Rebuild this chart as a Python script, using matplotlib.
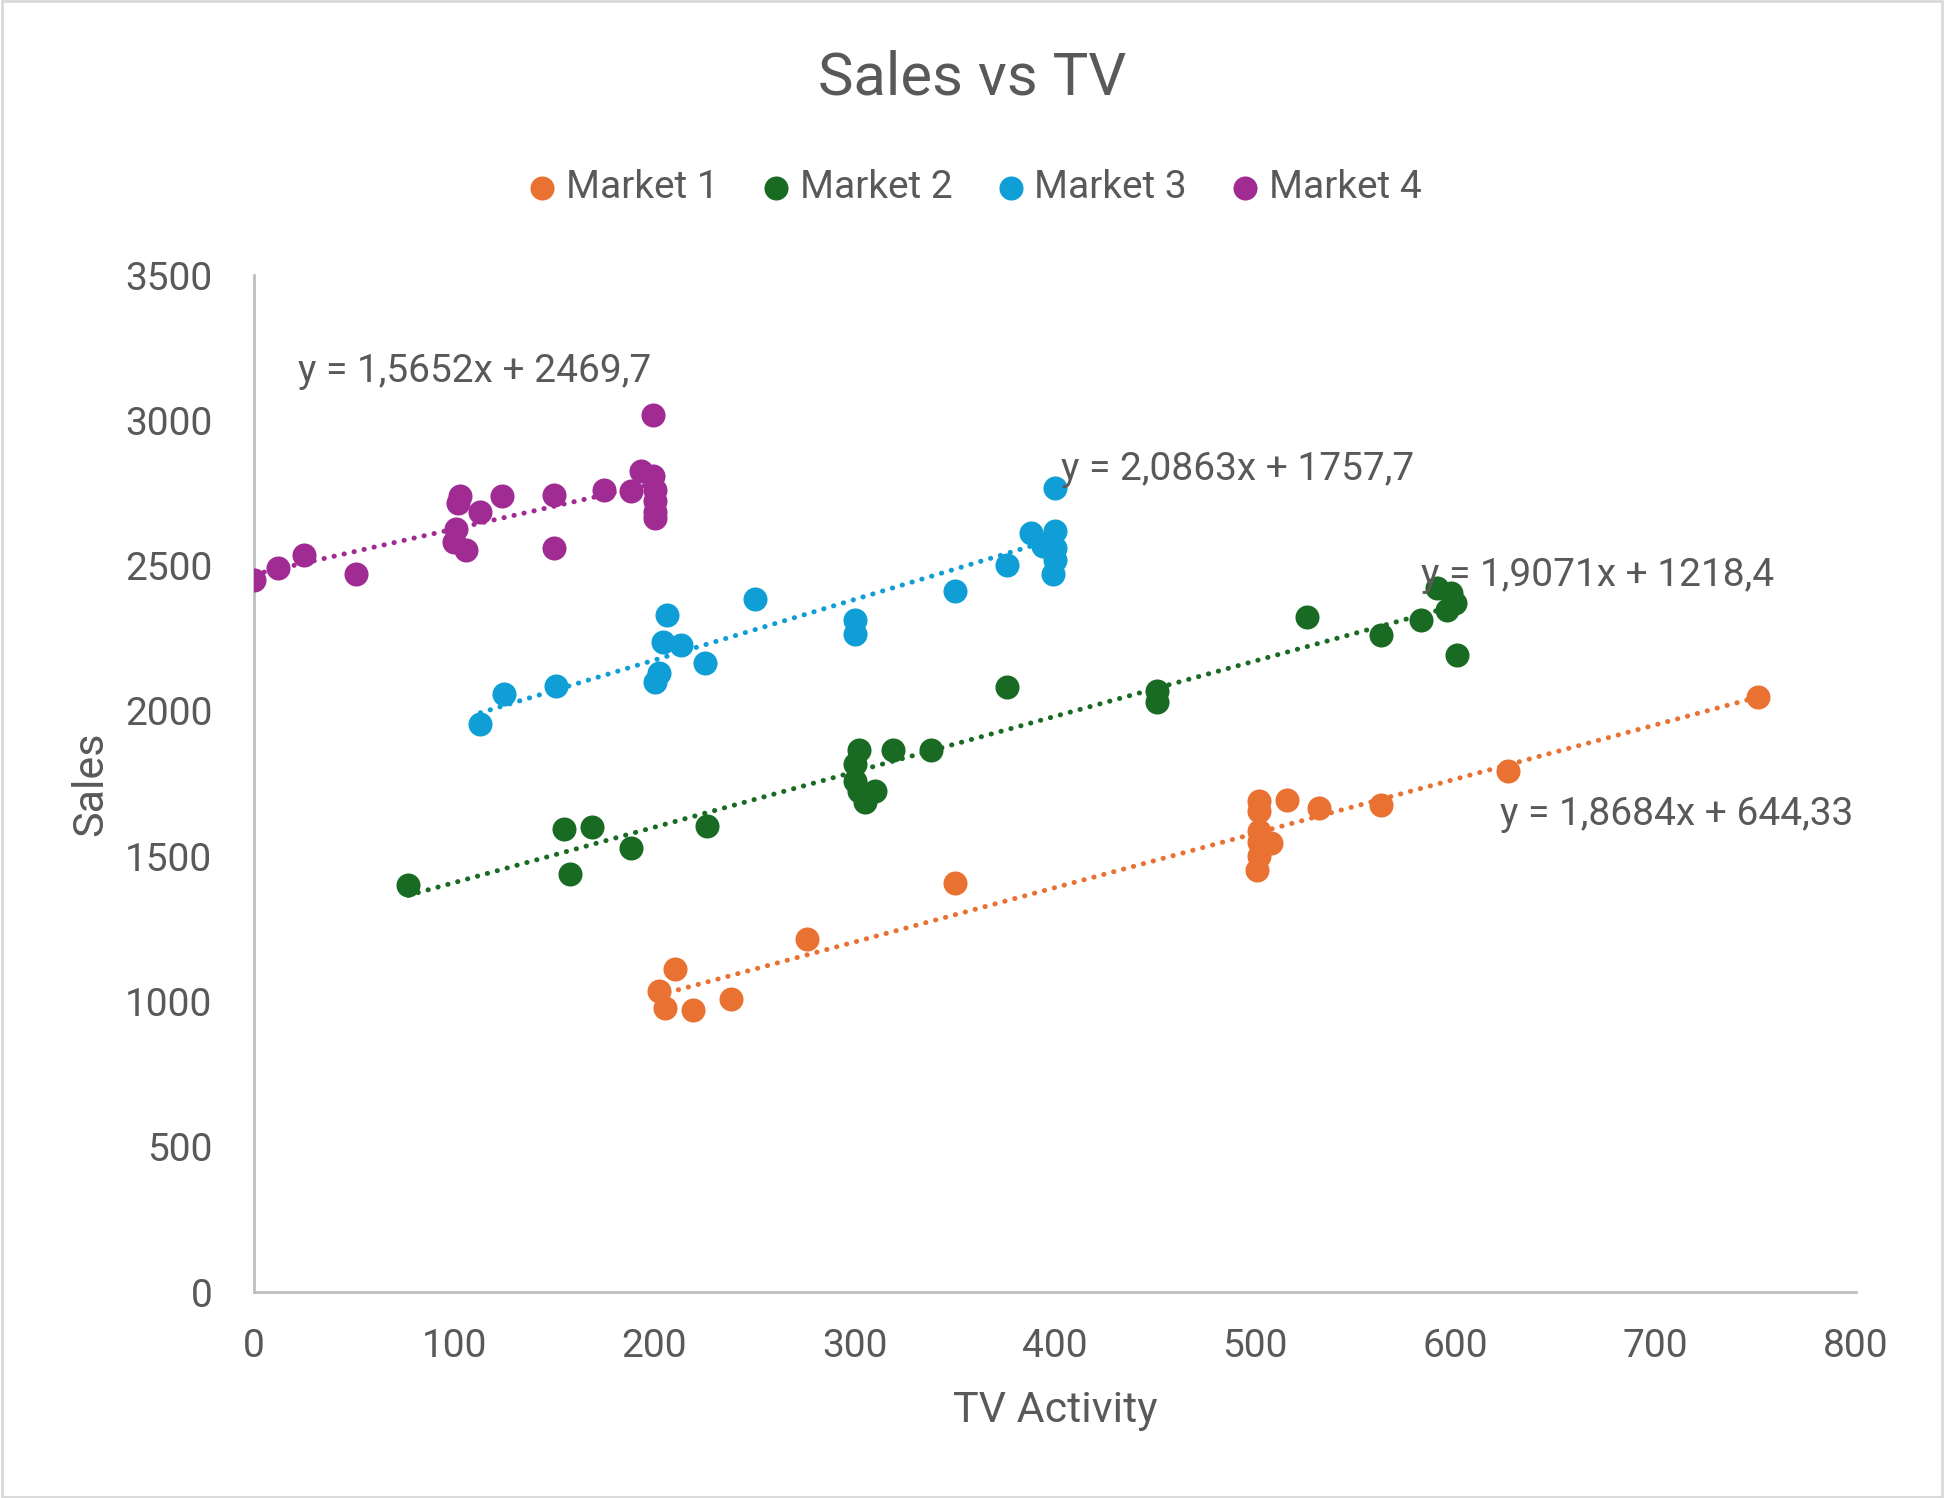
import numpy as np
import matplotlib.pyplot as plt
from matplotlib.patches import Rectangle

# Market data
m1_x = [202, 205, 210, 219, 238, 276, 350, 502, 502, 502, 502, 502, 501, 508, 516, 532, 563, 626, 751]
m1_y = [1037, 977, 1110, 969, 1007, 1216, 1408, 1690, 1656, 1588, 1549, 1502, 1451, 1545, 1694, 1665, 1677, 1793, 2049]

m2_x = [77, 155, 158, 169, 188, 226, 300, 302, 300, 302, 305, 310, 319, 338, 376, 451, 451, 526, 563, 583, 591, 596, 598, 600, 601]
m2_y = [1400, 1592, 1438, 1600, 1528, 1605, 1818, 1865, 1758, 1724, 1686, 1724, 1865, 1865, 2083, 2070, 2032, 2322, 2262, 2313, 2424, 2347, 2407, 2373, 2194]

m3_x = [113, 125, 151, 200, 202, 204, 206, 213, 225, 250, 300, 300, 350, 376, 388, 394, 398, 400, 400, 400, 400, 399]
m3_y = [1955, 2057, 2087, 2100, 2130, 2236, 2330, 2228, 2164, 2386, 2313, 2266, 2411, 2501, 2612, 2569, 2586, 2620, 2766, 2561, 2518, 2471]

m4_x = [0, 12, 25, 51, 100, 101, 102, 103, 106, 113, 124, 150, 150, 175, 188, 193, 199, 200, 200, 200, 200, 199]
m4_y = [2450, 2493, 2535, 2471, 2582, 2625, 2714, 2740, 2552, 2685, 2740, 2744, 2561, 2761, 2757, 2825, 2808, 2761, 2723, 2685, 2663, 3017]

names = ["Market 1", "Market 2", "Market 3", "Market 4"]
colors = ["#E97132", "#196B24", "#0F9ED5", "#A02B93"]
slopes = [1.8684, 1.9071, 2.0863, 1.5652]
intercepts = [644.33, 1218.4, 1757.7, 2469.7]
eq_labels = ["y = 1,8684x + 644,33", "y = 1,9071x + 1218,4",
             "y = 2,0863x + 1757,7", "y = 1,5652x + 2469,7"]
eq_pos = [(622, 1643), (583, 2467), (403, 2830), (22, 3167)]

plt.rcParams['font.family'] = ['Roboto', 'DejaVu Sans']
txt = "#595959"

fig = plt.figure(figsize=(19.44, 14.98), dpi=100)
ax = fig.add_axes([0.1307, 0.1375, 0.8240, 0.6789])

xs = [m1_x, m2_x, m3_x, m4_x]
ys = [m1_y, m2_y, m3_y, m4_y]
for x, y, c, n, k, b in zip(xs, ys, colors, names, slopes, intercepts):
    x = np.array(x)
    ax.scatter(x, y, s=300, color=c, label=n, zorder=3, linewidths=0)
    lx = np.array([x.min(), x.max()])
    ax.plot(lx, k * lx + b, color=c, lw=3.6, linestyle=(0, (0.05, 2.0)),
            dash_capstyle='round', zorder=2)

for s, (px, py) in zip(eq_labels, eq_pos):
    ax.text(px, py, s, fontsize=28, color=txt, va='center', ha='left', zorder=4)

ax.set_xlim(0, 800)
ax.set_ylim(0, 3500)
ax.set_xticks(range(0, 801, 100))
ax.set_yticks(range(0, 3501, 500))
ax.tick_params(length=0, labelsize=28, labelcolor=txt)
ax.tick_params(axis='y', pad=30)
ax.tick_params(axis='x', pad=26)
for sp in ['top', 'right']:
    ax.spines[sp].set_visible(False)
for sp in ['left', 'bottom']:
    ax.spines[sp].set_color('#BFBFBF')
    ax.spines[sp].set_linewidth(2)

ax.set_xlabel("TV Activity", fontsize=31, color=txt, labelpad=18)
ax.set_ylabel("Sales", fontsize=31, color=txt, labelpad=10)

fig.text(0.5, 0.948, "Sales vs TV", fontsize=43, color=txt, ha='center', va='center')
leg = fig.legend(loc='center', bbox_to_anchor=(0.5, 0.875), ncol=4, frameon=False,
                 fontsize=28, handletextpad=0.1, handlelength=1.0,
                 columnspacing=1.0, markerscale=1.0)
for t in leg.get_texts():
    t.set_color(txt)

fig.patches.append(Rectangle((0.001, 0.001), 0.998, 0.998, transform=fig.transFigure,
                             fill=False, edgecolor='#D9D9D9', lw=2))

fig.savefig("out.png", dpi=100, facecolor='white')
